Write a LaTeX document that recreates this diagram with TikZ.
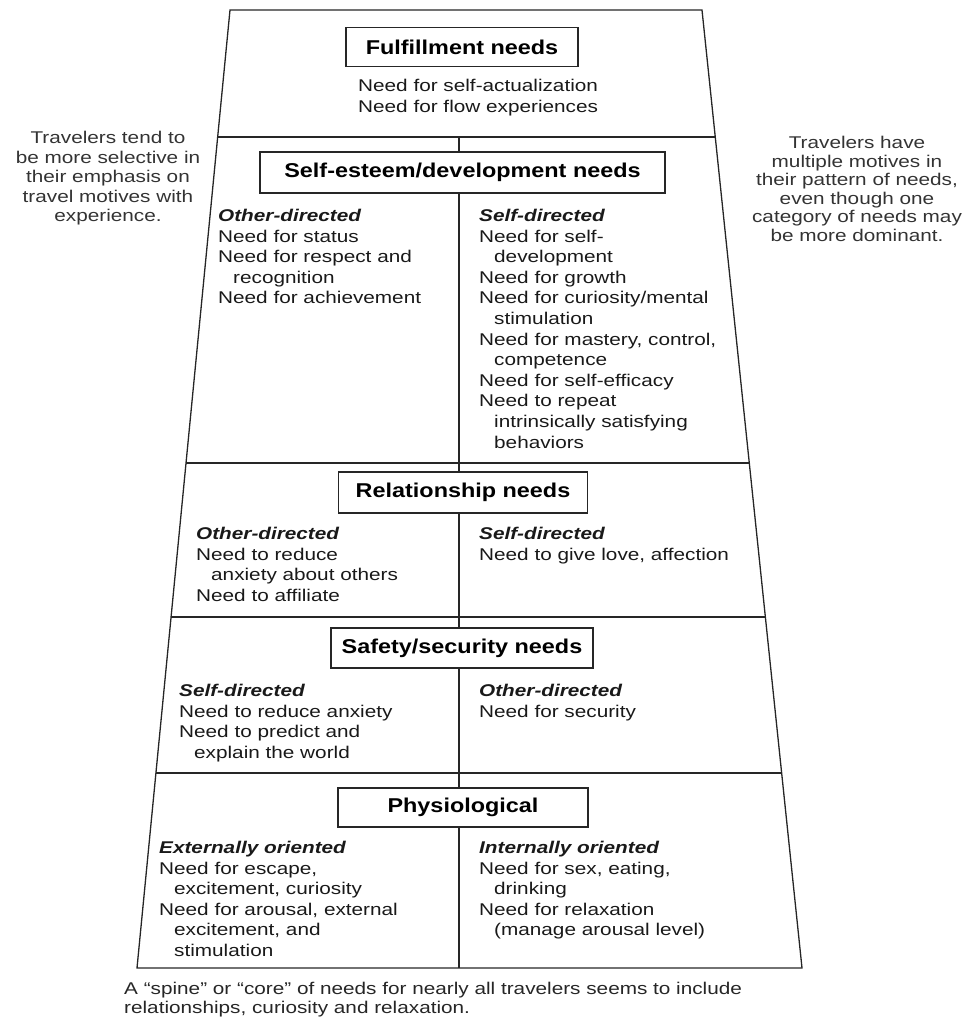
\documentclass[tikz,border=0pt]{standalone}
\usepackage{fontspec}
\setmainfont{Liberation Sans}[FakeStretch=1.22]
\newfontfamily\headfont{Liberation Sans}[FakeStretch=1.17]
\usetikzlibrary{calc}
\newcommand{\ind}{\hspace*{15pt}}
\newcommand{\colhead}[1]{\textbf{\textit{#1}}}

\begin{document}
\begin{tikzpicture}[x=1pt,y=-1pt,
  frame/.style={line width=1.3pt, black!85},
  titlebox/.style={draw=black!85, line width=1.4pt, fill=white, inner sep=0pt,
    font=\headfont\bfseries\fontsize{20}{24}\selectfont},
  col/.style={anchor=north west, align=left, inner sep=0pt,
    font=\fontsize{17}{20.6}\selectfont, text=black!90},
  side/.style={anchor=north, align=center, inner sep=0pt, text=black!80},
  note/.style={anchor=north west, align=left, inner sep=0pt,
    font=\fontsize{17}{19}\selectfont, text=black!85},
]
\useasboundingbox (0,0) rectangle (977,1022);

% outer trapezoid of the needs ladder
\coordinate (TL) at (230,10);
\coordinate (TR) at (702,10);
\coordinate (BL) at (137,968);
\coordinate (BR) at (802,968);
\draw[frame] (TL) -- (TR) -- (BR) -- (BL) -- cycle;

% level dividers
\foreach \t/\n in {0.1326/a, 0.4729/b, 0.6336/c, 0.7965/d} {
  \coordinate (L\n) at ($(TL)!\t!(BL)$);
  \coordinate (R\n) at ($(TR)!\t!(BR)$);
  \draw[frame] (L\n) -- (R\n);
}

% central spine splitting the lower levels in two
\coordinate (spinetop) at (459,137);
\coordinate (spinebot) at (459,968);
\draw[frame] (spinetop) -- (spinebot);

% level titles
\node[titlebox, minimum width=232, minimum height=39] (fulfil) at (462,47) {Fulfillment needs};
\node[titlebox, minimum width=405, minimum height=41] (esteem) at (462.5,172.5) {Self-esteem/development needs};
\node[titlebox, minimum width=249, minimum height=41] (relation) at (463,492.5) {Relationship needs};
\node[titlebox, minimum width=262, minimum height=40] (safety) at (462,648) {Safety/security needs};
\node[titlebox, minimum width=250, minimum height=39] (physio) at (463,807.5) {Physiological};

% level contents
\node[col] (fulfiltxt) at (358,79) {Need for self-actualization\\Need for flow experiences};

\node[col] (esteemL) at (218,209) {\colhead{Other-directed}\\Need for status\\Need for respect and\\\ind recognition\\Need for achievement};
\node[col] (esteemR) at (479,209) {\colhead{Self-directed}\\Need for self-\\\ind development\\Need for growth\\Need for curiosity/mental\\\ind stimulation\\Need for mastery, control,\\\ind competence\\Need for self-efficacy\\Need to repeat\\\ind intrinsically satisfying\\\ind behaviors};

\node[col] (relationL) at (196,527) {\colhead{Other-directed}\\Need to reduce\\\ind anxiety about others\\Need to affiliate};
\node[col] (relationR) at (479,527) {\colhead{Self-directed}\\Need to give love, affection};

\node[col] (safetyL) at (179,684) {\colhead{Self-directed}\\Need to reduce anxiety\\Need to predict and\\\ind explain the world};
\node[col] (safetyR) at (479,684) {\colhead{Other-directed}\\Need for security};

\node[col] (physioL) at (159,841) {\colhead{Externally oriented}\\Need for escape,\\\ind excitement, curiosity\\Need for arousal, external\\\ind excitement, and\\\ind stimulation};
\node[col] (physioR) at (479,841) {\colhead{Internally oriented}\\Need for sex, eating,\\\ind drinking\\Need for relaxation\\\ind (manage arousal level)};

% side remarks and footnote
\node[side, font=\fontsize{17}{19.5}\selectfont] (leftnote) at (108,131) {Travelers tend to\\be more selective in\\their emphasis on\\travel motives with\\experience.};
\node[side, font=\fontsize{17}{18.5}\selectfont] (rightnote) at (857,136) {Travelers have\\multiple motives in\\their pattern of needs,\\even though one\\category of needs may\\be more dominant.};
\node[note] (spine) at (124,982) {A ``spine'' or ``core'' of needs for nearly all travelers seems to include\\relationships, curiosity and relaxation.};
\end{tikzpicture}
\end{document}
